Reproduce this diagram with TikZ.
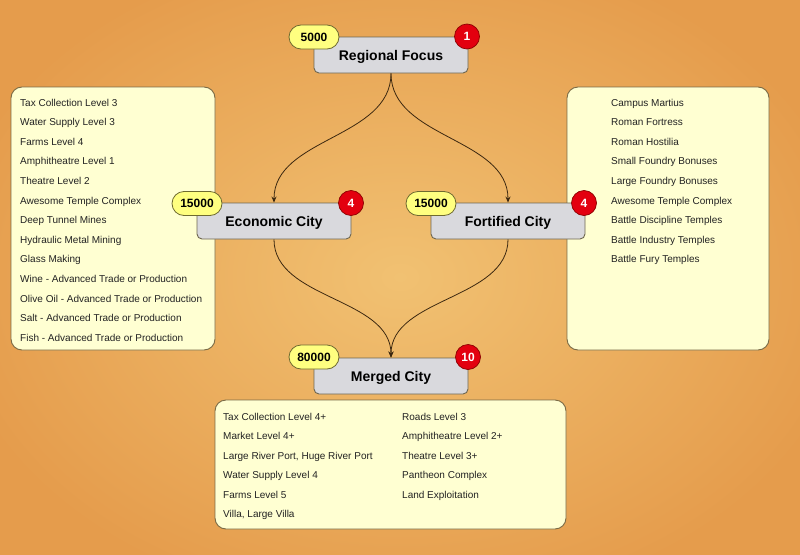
\documentclass[tikz,border=0pt]{standalone}
\usepackage{fontspec}
\setmainfont{Liberation Sans}
\usetikzlibrary{arrows.meta,shapes.misc}

\definecolor{bgin}{HTML}{F1C172}
\definecolor{bgout}{HTML}{E59C4C}
\definecolor{panelfill}{HTML}{FFFFD2}
\definecolor{panelline}{HTML}{7A6A45}
\definecolor{boxfill}{HTML}{D9D9DD}
\definecolor{boxline}{HTML}{6E6650}
\definecolor{badgefill}{HTML}{FFFF80}
\definecolor{badgeline}{HTML}{6E6A30}
\definecolor{redfill}{HTML}{E3000F}
\definecolor{linkcol}{HTML}{3C2810}
\definecolor{itemcol}{HTML}{222222}

\tikzset{
  panel/.style={draw=panelline, fill=panelfill, rounded corners=11pt, line width=0.9pt, inner sep=0pt},
  citybox/.style={draw=boxline, fill=boxfill, rounded corners=5pt, line width=0.9pt,
    minimum width=154pt, minimum height=36pt, inner sep=0pt,
    text height=10pt, text depth=0pt,
    font=\fontsize{14}{16}\selectfont\bfseries},
  cost/.style={draw=badgeline, fill=badgefill, rounded rectangle, line width=0.8pt,
    minimum width=50pt, minimum height=24pt, inner sep=0pt,
    text height=8.6pt, text depth=0pt,
    font=\fontsize{12}{14}\selectfont\bfseries},
  tier/.style={circle, draw=red!55!black, fill=redfill, line width=0.7pt,
    minimum size=25pt, inner sep=0pt, text=white,
    text height=8.6pt, text depth=0pt,
    font=\fontsize{12}{14}\selectfont\bfseries},
  item/.style={anchor=base west, inner sep=0pt, text=itemcol, font=\fontsize{10}{12}\selectfont},
  link/.style={draw=linkcol, line width=0.8pt, -{Stealth[length=6pt,width=5pt]}},
}

\begin{document}
\begin{tikzpicture}[x=1pt,y=-1pt]
\useasboundingbox (0,0) rectangle (800,554);
\shade[inner color=bgin, outer color=bgout] (-60,-60) rectangle (860,614);

% panels
\node[panel, minimum width=204pt, minimum height=263pt] (econlist) at (113,218.5) {};
\node[panel, minimum width=202pt, minimum height=263pt] (fortlist) at (668,218.5) {};
\node[panel, minimum width=351pt, minimum height=129pt] (mergedlist) at (390.5,464.5) {};

% left list
\foreach \t [count=\i from 0] in {Tax Collection Level 3, Water Supply Level 3, Farms Level 4,
  Amphitheatre Level 1, Theatre Level 2, Awesome Temple Complex, Deep Tunnel Mines,
  Hydraulic Metal Mining, Glass Making, Wine - Advanced Trade or Production,
  Olive Oil - Advanced Trade or Production, Salt - Advanced Trade or Production,
  Fish - Advanced Trade or Production}
  \node[item] (econitem\i) at (20,{106.2+19.58*\i}) {\t};

% right list
\foreach \t [count=\i from 0] in {Campus Martius, Roman Fortress, Roman Hostilia,
  Small Foundry Bonuses, Large Foundry Bonuses, Awesome Temple Complex,
  Battle Discipline Temples, Battle Industry Temples, Battle Fury Temples}
  \node[item] (fortitem\i) at (611,{106.2+19.58*\i}) {\t};

% bottom list
\foreach \t [count=\i from 0] in {Tax Collection Level 4+, Market Level 4+,
  {Large River Port, Huge River Port}, Water Supply Level 4, Farms Level 5, {Villa, Large Villa}}
  \node[item] (mergeditemA\i) at (223,{420.2+19.5*\i}) {\t};
\foreach \t [count=\i from 0] in {Roads Level 3, Amphitheatre Level 2+, Theatre Level 3+,
  Pantheon Complex, Land Exploitation}
  \node[item] (mergeditemB\i) at (402,{420.2+19.5*\i}) {\t};

% city boxes
\node[citybox] (focus) at (391,55) {Regional Focus};
\node[citybox] (econ) at (274,221) {Economic City};
\node[citybox] (fort) at (508,221) {Fortified City};
\node[citybox] (merged) at (391,376) {Merged City};

% connectors
\draw[link] (focus.south) .. controls +(0,65) and +(0,-65) .. (econ.north);
\draw[link] (focus.south) .. controls +(0,65) and +(0,-65) .. (fort.north);
\draw[link] (econ.south) .. controls +(0,60) and +(0,-60) .. (merged.north);
\draw[link] (fort.south) .. controls +(0,60) and +(0,-60) .. (merged.north);

% badges
\node[cost] (focuscost) at (314,37) {5000};
\node[tier] (focustier) at (467,36.5) {1};
\node[cost] (econcost) at (197,203.5) {15000};
\node[tier] (econtier) at (351,203) {4};
\node[cost] (fortcost) at (431,203.5) {15000};
\node[tier] (forttier) at (584,203) {4};
\node[cost] (mergedcost) at (314,357) {80000};
\node[tier] (mergedtier) at (468,357) {10};
\end{tikzpicture}
\end{document}
